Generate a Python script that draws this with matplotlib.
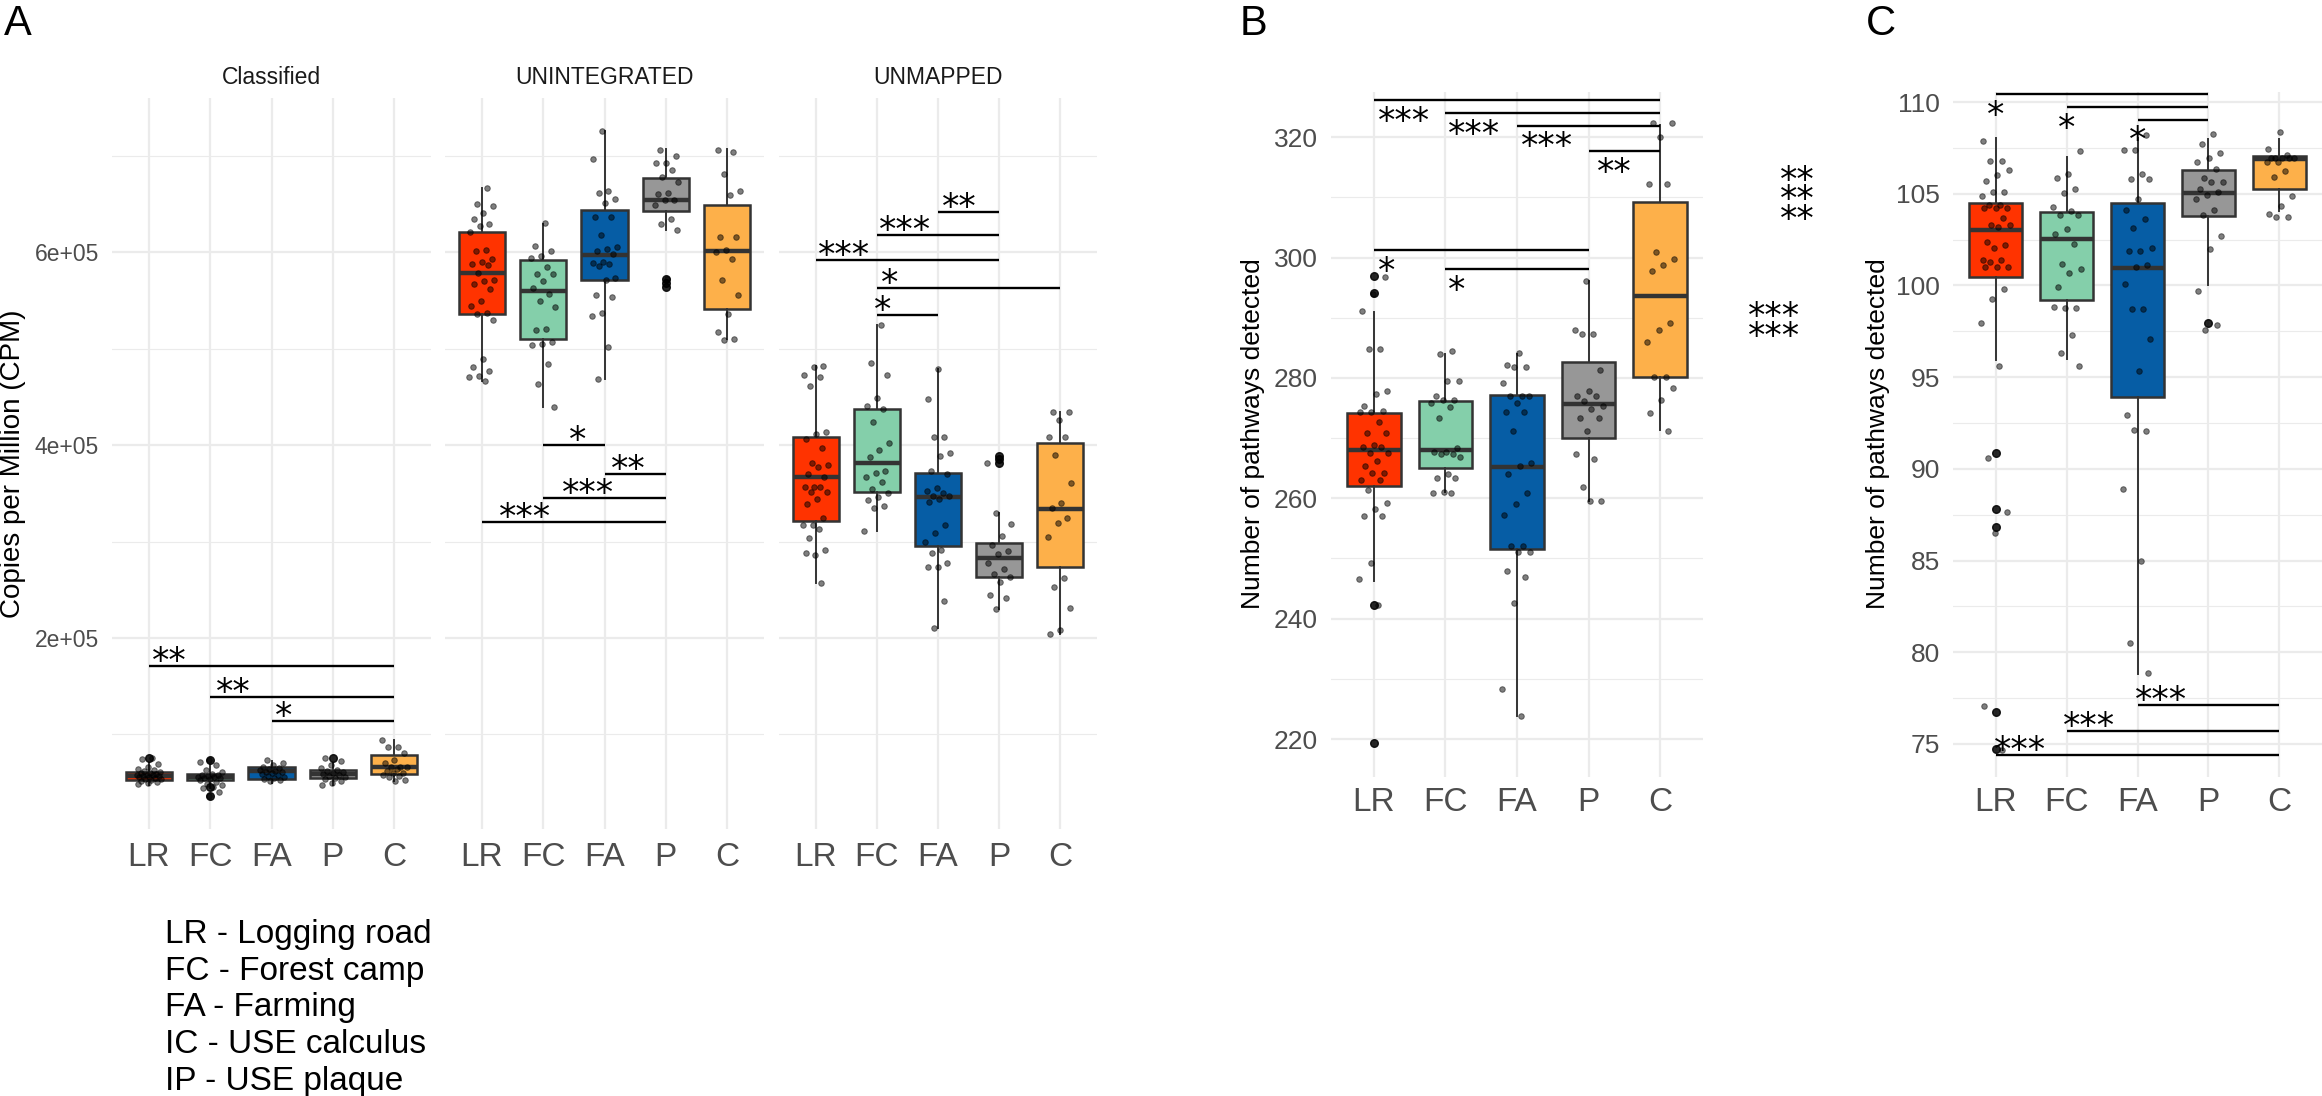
import numpy as np
import matplotlib
matplotlib.use("Agg")
import matplotlib.pyplot as plt
from matplotlib.font_manager import FontProperties
from matplotlib.textpath import TextPath

W, H = 2322, 1096

categories = ["LR", "FC", "FA", "P", "C"]
box_colors = ["#FF3300", "#84CFAA", "#065DA5", "#979797", "#FDB04A"]
a_facets = ["Classified", "UNINTEGRATED", "UNMAPPED"]
a_ytick_labels = ["2e+05", "4e+05", "6e+05"]
legend_lines = ["LR - Logging road", "FC - Forest camp", "FA - Farming",
                "IC - USE calculus", "IP - USE plaque"]

# panel A values are copies per million, in thousands
# box stats: [whisker low, q1, median, q3, whisker high]
cls_box = [[48, 52.8, 57.4, 61.5, 70], [44, 52.8, 55.6, 59.0, 68.4],
           [50, 53.6, 62.2, 66.0, 73], [48, 54.7, 59.0, 63.3, 70],
           [52, 59.0, 66.7, 78.4, 94.3]]
cls_out = [[76], [73.6, 45.3, 36], [], [76], []]
cls_pts = [
    [76, 74.5, 69, 66, 64.5, 63, 62, 61, 60.5, 60, 59, 58.5, 58, 57.5, 57, 56.5,
     56, 55.5, 55, 54, 53.5, 53, 52, 51, 50, 48.5],
    [73.6, 71.8, 68.4, 63.3, 61, 59.5, 58.5, 57.5, 57, 56, 55.5, 55, 54.5, 54,
     52.5, 51, 49, 47.7, 45.3, 44.2, 40, 36],
    [73.6, 70, 68, 66.5, 65, 64, 63, 62, 61.5, 61, 60, 59, 58, 57, 56, 55, 54,
     53, 51.5],
    [76, 72.6, 68, 65, 63, 62, 61, 60, 59.5, 58.5, 57, 56, 55, 54, 52, 50, 47.7],
    [94.3, 87.4, 87, 80.5, 74, 70, 66.7, 66.7, 66, 64, 62, 60, 60, 58, 56.6, 56,
     52.5, 52],
]

unint_box = [[466.6, 536, 578.6, 621, 667], [439.7, 510, 560, 591.7, 629.7],
             [469, 571.7, 597.6, 643.5, 726], [622.8, 642.5, 654.6, 677, 706.8],
             [509.9, 541, 601.7, 649.4, 706.8]]
unint_out = [[], [], [], [572.7, 568.6, 564], []]
unint_pts = [
    [667, 650, 648, 641, 635, 629, 627, 621, 602, 601, 593, 590, 588, 586.5,
     579, 571, 570, 567.5, 562, 550, 544, 537.5, 536, 529.5, 489, 481, 477,
     471.5, 471, 466.6],
    [630, 606.6, 601, 596, 594.5, 585, 578, 577, 570, 563, 557, 550, 543, 520,
     519, 507, 505, 503.6, 484.6, 463, 439.7],
    [726, 697, 663.5, 661.5, 655.6, 651, 636.6, 636.6, 618, 605.5, 603, 601,
     598.6, 590, 589, 588, 585.8, 573, 571, 556, 553.7, 537.5, 534, 502, 469],
    [706, 699.5, 693, 692.6, 685, 678, 673, 661.5, 660, 654, 654, 648.7, 635,
     629, 622.8, 572],
    [706, 704, 681.5, 663.5, 659.8, 615.9, 615.9, 602.8, 600, 593.5, 571.7,
     555.5, 535.8, 517.5, 510.6, 508.8],
]

unmap_box = [[256.6, 321.6, 367.2, 408.7, 482], [310.9, 351.3, 381, 437, 525],
             [210, 295.3, 346.5, 371.3, 479.4], [229.7, 263.6, 282.6, 298.1, 329.2],
             [204.2, 273.2, 333.7, 402.4, 433.9]]
unmap_out = [[], [], [], [388.6, 385.2, 382], []]
unmap_pts = [
    [482, 481, 472.6, 470.8, 461.5, 413.8, 412, 406, 396.6, 381, 379, 377.5,
     370.6, 367, 356.8, 356.8, 356.8, 351.6, 351.6, 344.7, 338.9, 324, 317, 317,
     312.6, 304, 291, 286, 287.7, 256.6],
    [525, 485.7, 472.6, 449, 440.7, 437, 424, 402.4, 394.8, 387.9, 373.4, 370.7,
     367.2, 361.3, 355, 350, 345.8, 343, 336.8, 334.4, 310.9],
    [479, 447.7, 408.6, 408.6, 391.4, 388.6, 373, 369.6, 355.8, 352.7, 350.6,
     347, 347, 343.7, 341.3, 317, 308.5, 299.8, 291.2, 288.4, 277.4, 273.9,
     273.9, 238.7, 210],
    [329.9, 318, 305.7, 296.4, 290.5, 287, 278, 271.2, 266, 263.6, 258.4, 244.6,
     241.8, 229.7, 382],
    [433.9, 433.9, 425.9, 408, 408, 389.6, 361, 339.6, 334.4, 324, 319.5, 305,
     262.5, 253.2, 230.8, 208.3, 203.8],
]

# panel B: number of pathways
b_box = [[246.3, 262.1, 268.1, 274.1, 291.0], [261.1, 265.0, 268.1, 276.1, 284.0],
         [223.9, 251.6, 265.2, 277.1, 284.0], [259.6, 270.1, 275.6, 282.6, 296.1],
         [271.3, 280.1, 293.6, 309.3, 322.0]]
b_out = [[297.0, 294.1, 242.2, 219.3], [], [], [], []]
b_pts = [
    [296.8, 293.9, 291.2, 284.8, 284.8, 277.8, 277.4, 275.3, 274.5, 274.3, 274.3,
     272.7, 270.9, 270.9, 268.8, 268.5, 268.5, 267.5, 267.5, 266.2, 265.3, 264.2,
     264.2, 263, 263, 261.4, 259.3, 258.3, 257, 257, 249.3, 246.6, 242.2],
    [284.4, 284.0, 279.5, 279.5, 277, 276.3, 276.3, 275.9, 275.2, 273.4, 268.3,
     267.7, 267.7, 267.4, 267.4, 266.8, 264, 263.3, 263.3, 261.1, 260.9, 260.9],
    [284.1, 282.2, 281.8, 281.8, 279.2, 277, 277, 277, 275.9, 274.3, 274.3, 271.1,
     265.9, 265.3, 264.1, 260.9, 259, 257.3, 252, 252, 251, 251, 248, 246.9,
     242.6, 228.4, 223.9],
    [296.1, 287.9, 287.3, 287.3, 281.3, 277.8, 277, 277, 276.2, 275.3, 274.9,
     273.4, 273.4, 271.2, 267.3, 266.5, 261.9, 259.5, 259.5],
    [322.4, 322.4, 320.1, 312.2, 312.2, 301.0, 299.8, 298.7, 297.7, 289.2, 287.9,
     285.9, 280.1, 280.1, 278.3, 276.4, 274.1, 271.1],
]

# panel C: number of pathways
c_box = [[95.93, 100.47, 103.01, 104.51, 108.04], [95.98, 99.19, 102.52, 104.0, 107.03],
         [78.82, 93.92, 100.98, 104.51, 108.04], [100.0, 103.77, 105.02, 106.27, 107.99],
         [104.07, 105.27, 106.9, 107.06, 107.99]]
c_out = [[90.88, 87.84, 86.84, 76.76, 74.75], [], [], [97.94], []]
c_pts = [
    [107.9, 106.8, 106.8, 106.3, 106.0, 105.7, 105.1, 105.1, 104.9, 104.4, 104.4,
     104.2, 104.2, 104.2, 103.7, 103.3, 103.3, 103.2, 102.35, 102.2, 102.06,
     101.4, 101.4, 101.3, 101.0, 101.0, 101.0, 99.8, 99.26, 97.97, 95.6, 90.6,
     87.67, 86.52, 77.06, 74.66],
    [107.33, 106.1, 105.86, 105.25, 105.02, 104.26, 104.07, 103.82, 103.82,
     103.09, 102.79, 102.26, 101.18, 100.88, 100.69, 99.9, 98.77, 98.77, 98.8,
     97.3, 96.32, 95.59],
    [108.19, 107.38, 107.38, 106.1, 105.83, 105.83, 104.73, 104.14, 103.63,
     103.14, 102.03, 101.86, 101.86, 101.13, 101.0, 100.1, 98.7, 98.7, 97.06,
     95.32, 92.94, 92.06, 92.1, 88.92, 85.0, 80.49, 78.87],
    [108.24, 107.72, 107.25, 106.94, 106.76, 106.37, 105.88, 105.66, 105.66,
     105.25, 105.1, 104.93, 104.71, 104.14, 103.87, 102.72, 101.99, 99.71, 97.82,
     97.55],
    [108.38, 107.45, 107.13, 106.96, 106.96, 106.96, 106.96, 106.96, 106.76,
     106.76, 106.23, 105.93, 104.9, 104.31, 103.92, 103.73, 103.73],
]

# significance brackets: (from, to, y, label, label x)
cls_sig = [(1, 5, 171.3, "**", 1.05), (2, 5, 139.2, "**", 2.1), (3, 5, 114.3, "*", 3.05)]
unint_sig = [(2, 3, 399.7, "*", 2.42), (3, 4, 370.0, "**", 3.11),
             (2, 4, 345.4, "***", 2.30), (1, 4, 319.9, "***", 1.28)]
unmap_sig = [(3, 4, 641.8, "**", 3.07), (2, 4, 617.6, "***", 2.04),
             (1, 4, 591.7, "***", 1.03), (2, 5, 563.4, "*", 2.06),
             (2, 3, 534.7, "*", 1.96)]
b_sig = [(1, 5, 326.1, "***", 1.05), (2, 5, 324.0, "***", 2.03),
         (3, 5, 321.9, "***", 3.05), (4, 5, 317.7, "**", 4.12),
         (1, 4, 301.2, "*", 1.05), (2, 4, 298.1, "*", 2.03)]
c_sig_top = [(1, 4, 110.42, "*", 0.88), (2, 4, 109.73, "*", 1.88), (3, 4, 109.04, "*", 2.88)]
c_sig_bottom = [(3, 5, 77.11, "***", 2.96), (2, 5, 75.73, "***", 1.95),
                (1, 5, 74.39, "***", 0.97)]
# stacked labels right of panel B
side_stars = [("**", 3), ("***", 2)]

plt.rcParams["font.family"] = ["Liberation Sans", "DejaVu Sans"]

STAR_FS = 25
STAR_EM = STAR_FS / 0.72
_star_prop = FontProperties(family="DejaVu Sans")
_ext = TextPath((0, 0), "*", size=1, prop=_star_prop).get_extents()
STAR_LO, STAR_HI = _ext.y0, _ext.y1
_lp_ext = TextPath((0, 0), "lp", size=1, prop=_star_prop).get_extents()
LP_ASC, LP_DESC = _lp_ext.y1, -_lp_ext.y0
ABOVE_OFF = 4 * 0.72 - STAR_LO * STAR_FS
BELOW_OFF = -(6 * 0.72 + STAR_HI * STAR_FS)


def add_panel(fig, left, top, right, bottom):
    return fig.add_axes([left / W, 1 - bottom / H, (right - left) / W, (bottom - top) / H])


def style_axes(ax, ylim, major, minor, ysize, xpad, show_y=True, ylabels=None):
    ax.set_xlim(0.4, 5.6)
    ax.set_ylim(*ylim)
    ax.set_xticks(range(1, 6))
    ax.set_xticklabels(categories)
    ax.set_yticks(major)
    ax.set_yticks(minor, minor=True)
    if ylabels is not None:
        ax.set_yticklabels(ylabels)
    ax.grid(True, which="major", color="#EBEBEB", lw=1.6)
    ax.grid(True, which="minor", axis="y", color="#EBEBEB", lw=0.8)
    ax.set_axisbelow(True)
    for sp in ax.spines.values():
        sp.set_visible(False)
    ax.tick_params(which="both", length=0)
    ax.tick_params(axis="x", labelsize=24, labelcolor="#4D4D4D", pad=xpad)
    ax.tick_params(axis="y", labelsize=ysize, labelcolor="#4D4D4D", pad=9.5,
                   labelleft=show_y)


def draw_boxes(ax, boxes, points, outliers, scale=1.0, shift=0):
    stats = []
    for b, out in zip(boxes, outliers):
        lo, q1, med, q3, hi = [v * scale for v in b]
        stats.append(dict(whislo=lo, q1=q1, med=med, q3=q3, whishi=hi,
                          fliers=[v * scale for v in out]))
    res = ax.bxp(stats, positions=list(range(1, 6)), widths=0.75, patch_artist=True,
                 showcaps=False, manage_ticks=False,
                 boxprops=dict(edgecolor="#333333", linewidth=1.8),
                 whiskerprops=dict(color="#333333", linewidth=1.4),
                 medianprops=dict(color="#333333", linewidth=3.2),
                 flierprops=dict(marker="o", markerfacecolor="black",
                                 markeredgecolor="black", markersize=5.5, alpha=0.85))
    for patch, col in zip(res["boxes"], box_colors):
        patch.set_facecolor(col)
    for i, pts in enumerate(points):
        frac = ((np.arange(len(pts)) + 3 * i + shift + 1) * 0.618034) % 1.0
        x = i + 1 + (frac - 0.5) * 0.42
        ax.scatter(x, np.asarray(pts) * scale, s=16, color="black", alpha=0.5,
                   edgecolors="black", linewidths=0.7, zorder=4)


def draw_sig(ax, brackets, above, scale=1.0):
    off = ABOVE_OFF if above else BELOW_OFF
    for x1, x2, y, label, tx in brackets:
        ax.plot([x1, x2], [y * scale, y * scale], color="black", lw=1.7,
                solid_capstyle="butt", clip_on=False, zorder=5)
        ax.annotate(label, xy=(tx, y * scale), xytext=(0, off),
                    textcoords="offset points", ha="left", va="baseline",
                    fontsize=STAR_FS, family="DejaVu Sans",
                    annotation_clip=False, zorder=6)


def star_stack(fig, x_px, first_center_px, row_px, label, rows):
    # one multi-line text; va="baseline" refers to the last line
    last_center = first_center_px + (rows - 1) * row_px
    base = last_center + (STAR_LO + STAR_HI) / 2 * STAR_EM
    ls = (row_px - LP_DESC * STAR_EM) / (LP_ASC * STAR_EM)
    fig.text(x_px / W, 1 - base / H, "\n".join([label] * rows), ha="left",
             va="baseline", fontsize=STAR_FS, family="DejaVu Sans", linespacing=ls)


fig = plt.figure(figsize=(W / 100, H / 100), dpi=100)

# ---- panel A: three facets
a_lefts = [112, 445, 779]
a_rights = [431, 764, 1097]
a_data = [(cls_box, cls_pts, cls_out, cls_sig),
          (unint_box, unint_pts, unint_out, unint_sig),
          (unmap_box, unmap_pts, unmap_out, unmap_sig)]
for k, (left, right) in enumerate(zip(a_lefts, a_rights)):
    ax = add_panel(fig, left, 98, right, 829)
    boxes, pts, outs, sig = a_data[k]
    draw_boxes(ax, boxes, pts, outs, scale=1000, shift=k * 5)
    style_axes(ax, (2e3, 7.6e5), [2e5, 4e5, 6e5], [1e5, 3e5, 5e5, 7e5],
               ysize=16.5, xpad=9, show_y=(k == 0), ylabels=a_ytick_labels)
    draw_sig(ax, sig, above=True, scale=1000)
    fig.text((left + right) / 2 / W, 1 - 84 / H, a_facets[k], ha="center",
             va="baseline", fontsize=16.5, color="#1A1A1A")

fig.text(13 / W, 1 - 464 / H, "Copies per Million (CPM)", rotation=90,
         ha="center", va="center", fontsize=20)

# ---- panel B
axb = add_panel(fig, 1331, 92, 1703, 777)
draw_boxes(axb, b_box, b_pts, b_out, shift=2)
style_axes(axb, (213.7, 327.5), list(range(220, 321, 20)), list(range(230, 311, 20)),
           ysize=19, xpad=7)
draw_sig(axb, b_sig, above=False)
fig.text(1253 / W, 1 - 434 / H, "Number of pathways detected", rotation=90,
         ha="center", va="center", fontsize=19)

star_stack(fig, 1780, 173, 19.5, side_stars[0][0], side_stars[0][1])
star_stack(fig, 1748, 309, 20, side_stars[1][0], side_stars[1][1])

# ---- panel C
axc = add_panel(fig, 1953, 92, 2322, 777)
draw_boxes(axc, c_box, c_pts, c_out, shift=4)
style_axes(axc, (73.2, 110.55), list(range(75, 111, 5)),
           [77.5, 82.5, 87.5, 92.5, 97.5, 102.5, 107.5], ysize=19, xpad=7)
draw_sig(axc, c_sig_top, above=False)
draw_sig(axc, c_sig_bottom, above=True)
fig.text(1878 / W, 1 - 434 / H, "Number of pathways detected", rotation=90,
         ha="center", va="center", fontsize=19)

# panel letters
for letter, x in (("A", 4), ("B", 1240), ("C", 1866)):
    fig.text(x / W, 1 - 35 / H, letter, ha="left", va="baseline", fontsize=30)

# abbreviations key
for i, line in enumerate(legend_lines):
    fig.text(165 / W, 1 - (943 + i * 36.7) / H, line, ha="left", va="baseline",
             fontsize=24)

fig.savefig("out.png", dpi=100)
